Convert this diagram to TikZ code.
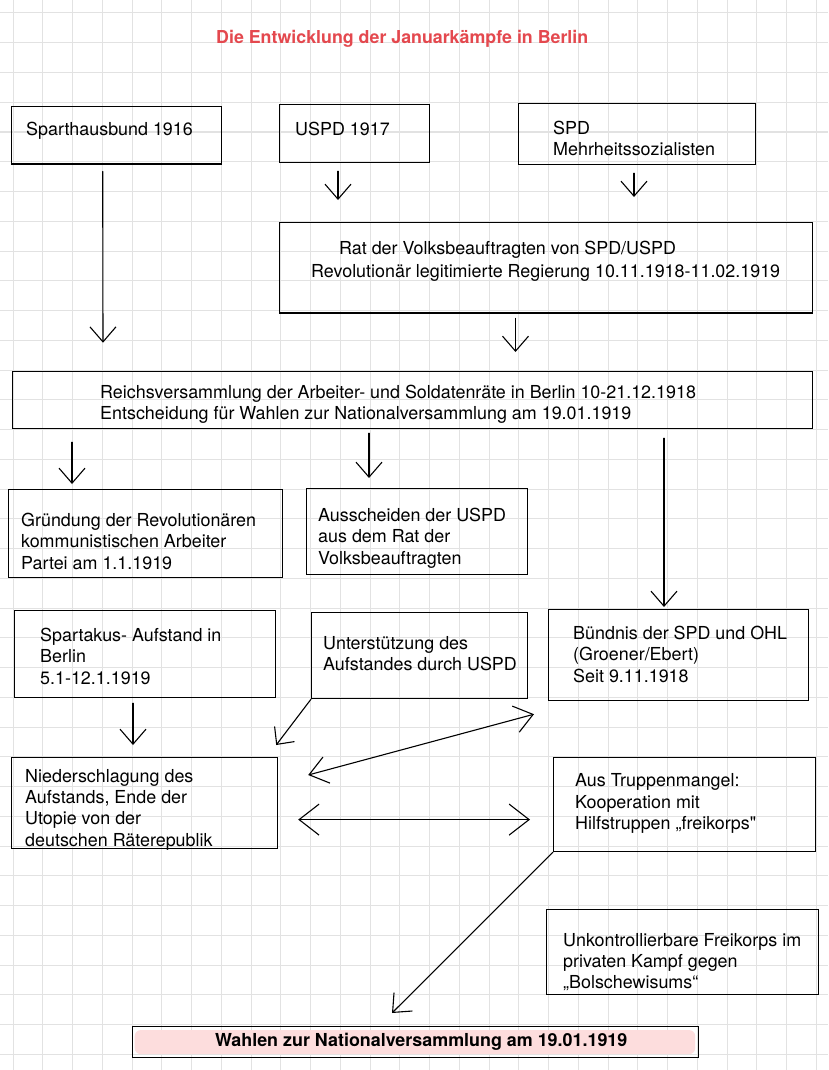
\documentclass[tikz,border=0pt]{standalone}
\usepackage{fontspec}
\setmainfont{TeX Gyre Heros}[Ligatures=TeXOff]
\usetikzlibrary{arrows.meta}
\definecolor{titlered}{RGB}{228,72,78}
\definecolor{wahlpink}{RGB}{253,221,221}
\definecolor{gridgray}{RGB}{226,226,226}
\begin{document}
\begin{tikzpicture}[x=1pt,y=-1pt,
  box/.style={draw, line width=1.2pt, inner sep=0pt, anchor=north west},
  txt/.style={inner sep=0pt, anchor=north west, align=left, font=\fontsize{17.9}{21.3}\selectfont},
  varr/.style={line width=1.1pt, line cap=round, -{Straight Barb[length=15pt,width=26pt]}},
  sarr/.style={line width=1.1pt, line cap=round, -{Straight Barb[length=13pt,width=25pt]}},
  darr/.style={line width=1.1pt, line cap=round, {Straight Barb[length=18pt,width=27pt]}-{Straight Barb[length=18pt,width=27pt]}},
  harr/.style={line width=1.1pt, line cap=round, {Straight Barb[length=20pt,width=31pt]}-{Straight Barb[length=20pt,width=31pt]}}]
\useasboundingbox (0,0) rectangle (828,1070);
\fill[white] (0,0) rectangle (828,1070);
% grid paper
\foreach \i in {0,...,27}
  \draw[gridgray, line width=1pt] ({13+\i*29.75},0) -- ({13+\i*29.75},1070);
\foreach \j in {0,...,35}
  \draw[gridgray, line width=1pt] (0,{13+\j*29.75}) -- (828,{13+\j*29.75});
% title
\node[anchor=north west, inner sep=0pt, text=titlered, font=\bfseries\fontsize{17.8}{21}\selectfont] (title) at (216,29.8) {Die Entwicklung der Januarkämpfe in Berlin};
% first row
\node[box, minimum width=210pt, minimum height=57.3pt] (spart) at (10.7,106) {};
\node[txt] (spart-t) at (26,122) {Sparthausbund 1916};
\node[box, minimum width=150pt, minimum height=58pt] (uspd) at (279,104) {};
\node[txt] (uspd-t) at (295,122) {USPD 1917};
\node[box, minimum width=237pt, minimum height=61pt] (spd) at (518,103) {};
\node[txt] (spd-t) at (553,121) {SPD\\Mehrheitssozialisten};
% Rat der Volksbeauftragten
\node[box, minimum width=533.3pt, minimum height=90.3pt] (rat) at (278.7,222) {};
\node[txt] (rat-t) at (311,241) {\hspace*{28pt}Rat der Volksbeauftragten von SPD/USPD\\[1.7pt]Revolutionär legitimierte Regierung 10.11.1918-11.02.1919};
% Reichsversammlung
\node[box, minimum width=800pt, minimum height=57.3pt] (reichs) at (12,370.7) {};
\node[txt] (reichs-t) at (100,384.7) {Reichsversammlung der Arbeiter- und Soldatenräte in Berlin 10-21.12.1918\\Entscheidung für Wahlen zur Nationalversammlung am 19.01.1919};
% second row
\node[box, minimum width=274pt, minimum height=88pt] (gruend) at (8,489) {};
\node[txt] (gruend-t) at (21,513) {Gründung der Revolutionären\\kommunistischen Arbeiter\\Partei am 1.1.1919};
\node[box, minimum width=221pt, minimum height=86pt] (aussch) at (306,488) {};
\node[txt] (aussch-t) at (318,508) {Ausscheiden der USPD\\aus dem Rat der\\Volksbeauftragten};
% third row
\node[box, minimum width=261pt, minimum height=87pt] (spartak) at (14,610) {};
\node[txt] (spartak-t) at (40,628) {Spartakus- Aufstand in\\Berlin\\5.1-12.1.1919};
\node[box, minimum width=216pt, minimum height=86pt] (unterst) at (311,612) {};
\node[txt] (unterst-t) at (323,636) {Unterstützung des\\Aufstandes durch USPD};
\node[box, minimum width=260pt, minimum height=91pt] (buend) at (548,609) {};
\node[txt] (buend-t) at (573,626) {Bündnis der SPD und OHL\\(Groener/Ebert)\\Seit 9.11.1918};
% fourth row
\node[box, minimum width=266.3pt, minimum height=91pt] (nieder) at (10.7,757) {};
\node[txt] (nieder-t) at (25,769) {Niederschlagung des\\Aufstands, Ende der\\Utopie von der\\deutschen Räterepublik};
\node[box, minimum width=262pt, minimum height=94pt] (truppen) at (553,757) {};
\node[txt] (truppen-t) at (575,773.7) {Aus Truppenmangel:\\Kooperation mit\\Hilfstruppen „freikorps"};
\node[box, minimum width=272pt, minimum height=85pt] (unkontr) at (546,909) {};
\node[txt] (unkontr-t) at (563,933) {Unkontrollierbare Freikorps im\\privaten Kampf gegen\\„Bolschewisums“};
% Wahlen
\node[box, minimum width=566pt, minimum height=31pt, font=\bfseries\fontsize{17.9}{21.3}\selectfont,
  path picture={\fill[wahlpink, rounded corners=6pt] ([shift={(2.5pt,3.5pt)}]path picture bounding box.south west) rectangle ([shift={(-3pt,-3.5pt)}]path picture bounding box.north east);}] (wahlen) at (131.6,1026) {\hspace*{12pt}Wahlen zur Nationalversammlung am 19.01.1919};
% arrows
\draw[varr] ([shift={(92,7)}]spart.south west) -- ([shift={(91,-28)}]reichs.north west);
\draw[varr] ([shift={(59,8)}]uspd.south west) -- ([shift={(59.3,-22)}]rat.north west);
\draw[varr] ([shift={(116,8)}]spd.south west) -- ([shift={(355.3,-25)}]rat.north west);
\draw[varr] ([shift={(236.8,5)}]rat.south west) -- ([shift={(503.5,-18.7)}]reichs.north west);
\draw[varr] ([shift={(60,13)}]reichs.south west) -- ([shift={(64,-5)}]gruend.north west);
\draw[varr] ([shift={(357,4)}]reichs.south west) -- ([shift={(63,-10)}]aussch.north west);
\draw[varr] ([shift={(652,9)}]reichs.south west) -- ([shift={(116,-2)}]buend.north west);
\draw[varr] ([shift={(119,5)}]spartak.south west) -- ([shift={(122.3,-12)}]nieder.north west);
\draw[sarr] (unterst.south west) -- ([shift={(-2,-12)}]nieder.north east);
\draw[darr] ([shift={(30,18)}]nieder.north east) -- ([shift={(-14,13)}]buend.south west);
\draw[harr] ([shift={(20,16.5)}]nieder.east) -- ([shift={(-23,15)}]truppen.west);
\draw[varr] (truppen.south west) -- ([shift={(260.4,-13)}]wahlen.north west);
\end{tikzpicture}
\end{document}
